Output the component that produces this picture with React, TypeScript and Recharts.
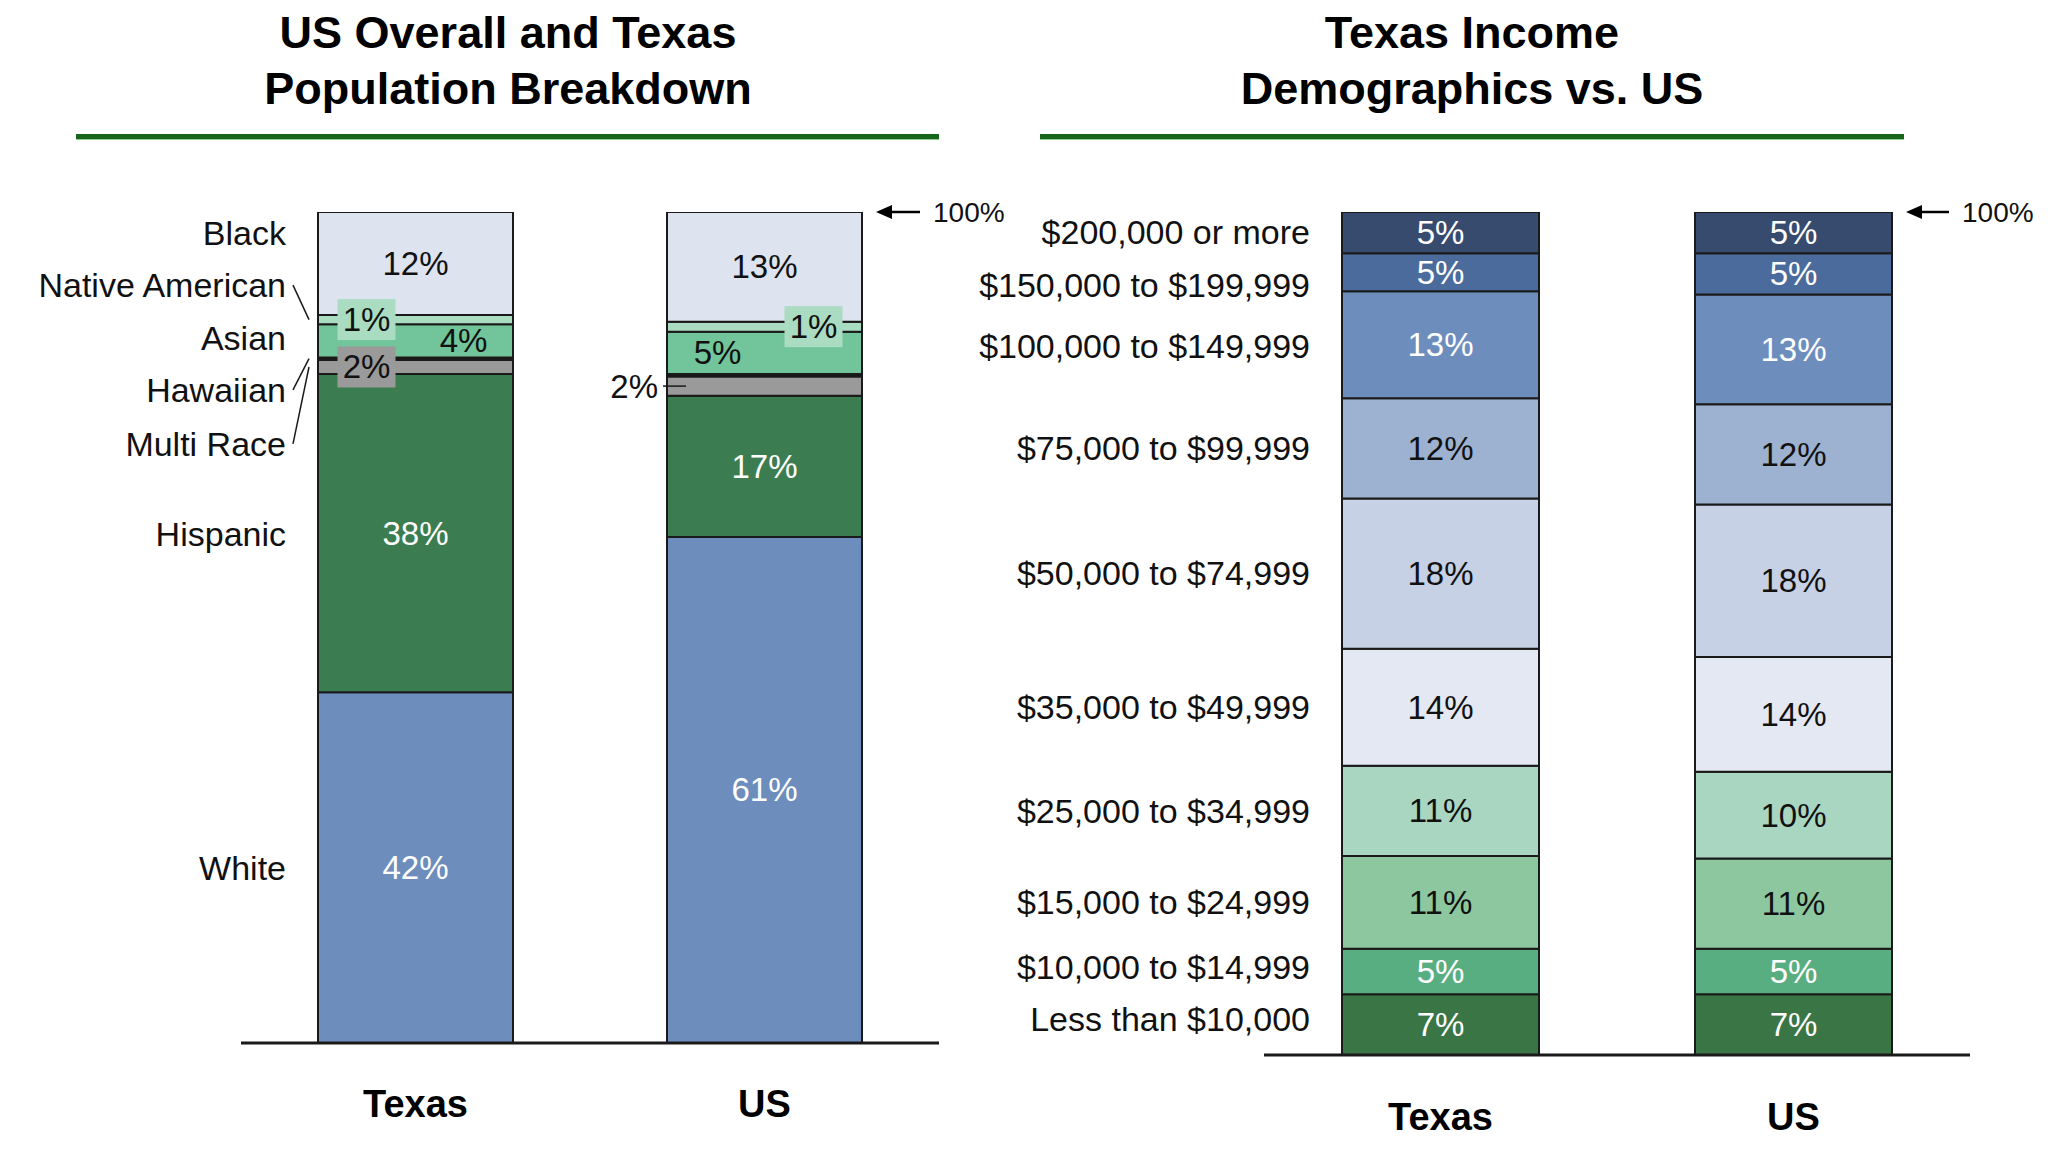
import React from "react";
import { BarChart, Bar, XAxis, YAxis, LabelList, ReferenceLine } from "recharts";

const FONT = '"Liberation Sans", Arial, Helvetica, sans-serif';

const CATEGORIES = ["Texas", "US"];

// race / ethnicity shares, bottom of stack first
const RACE_GROUPS = ["White", "Hispanic", "Multi Race", "Hawaiian", "Asian", "Native American", "Black"];
const RACE_TEXAS = [42.2, 38.3, 1.7, 0.3, 4.0, 1.1, 12.4];
const RACE_US = [60.9, 17.0, 2.3, 0.3, 5.1, 1.2, 13.2];
const RACE_TICK_POS = [21.1, 61.3, 72.1, 78.6, 84.8, 91.2, 97.5];
const RACE_LEADERS = ["Native American", "Hawaiian", "Multi Race"];
const RACE_COLORS = ["#6d8dbc", "#3b7d50", "#9a9a9a", "#151515", "#72c49a", "#a9dcc0", "#dde3ef"];

// household income shares, bottom of stack first
const INCOME_BRACKETS = [
  "Less than $10,000",
  "$10,000 to $14,999",
  "$15,000 to $24,999",
  "$25,000 to $34,999",
  "$35,000 to $49,999",
  "$50,000 to $74,999",
  "$75,000 to $99,999",
  "$100,000 to $149,999",
  "$150,000 to $199,999",
  "$200,000 or more",
];
const INCOME_TEXAS = [7.2, 5.4, 11.0, 10.7, 13.9, 17.8, 11.9, 12.7, 4.5, 4.9];
const INCOME_US = [7.2, 5.4, 10.7, 10.3, 13.6, 18.1, 11.9, 13.0, 4.9, 4.9];
const INCOME_TICK_POS = [4.3, 10.4, 18.2, 29.0, 41.3, 57.2, 72.0, 84.1, 91.3, 97.6];
const INCOME_COLORS = [
  "#3a7545", "#58ae80", "#8dc79f", "#a9d6c1", "#e3e8f2",
  "#c6d1e5", "#9db1d0", "#6d8ebd", "#4a6b9b", "#364b6e",
];
const INCOME_TEXT = ["#fff", "#fff", "#111", "#111", "#111", "#111", "#111", "#fff", "#fff", "#fff"];

const RACE_BY_CAT = [RACE_TEXAS, RACE_US];
const INCOME_BY_CAT = [INCOME_TEXAS, INCOME_US];

const raceRows = CATEGORIES.map((name, i) => {
  const row: Record<string, any> = { name };
  RACE_GROUPS.forEach((g, j) => (row[g] = RACE_BY_CAT[i][j]));
  return row;
});
const incomeRows = CATEGORIES.map((name, i) => {
  const row: Record<string, any> = { name };
  INCOME_BRACKETS.forEach((g, j) => (row[g] = INCOME_BY_CAT[i][j]));
  return row;
});

// per group / per category label treatment
type LabelStyle = { dx?: number; box?: string; color?: string; outside?: boolean } | null;
const RACE_LABEL_STYLE: LabelStyle[][] = [
  [{ color: "#fff" }, { color: "#fff" }],
  [{ color: "#fff" }, { color: "#fff" }],
  [{ dx: -49, box: "#9a9a9a" }, { outside: true }],
  [null, null],
  [{ dx: 48 }, { dx: -47 }],
  [{ dx: -49, box: "#a9dcc0" }, { dx: 49, box: "#a9dcc0" }],
  [{}, {}],
];

const LABEL_FONT = 33;
const LEFT_PLOT_H = 831;
const LEFT_AXIS_Y = 893;
const RIGHT_AXIS_Y = 905;
const RIGHT_LEFT = 960;

const pct = (v: number) => `${Math.round(v)}%`;

// all race labels drawn from the top (last) series so they sit above every segment
function RaceLabels(props: any) {
  const { x, y, width, height, index } = props;
  const vals = RACE_BY_CAT[index];
  const top = vals[vals.length - 1];
  const px = Number(height) / top;
  const below = vals.slice(0, -1).reduce((a, b) => a + b, 0);
  const bottom = Number(y) + Number(height);
  const cx = Number(x) + Number(width) / 2;
  let cum = 0;
  return (
    <g>
      {vals.map((v, j) => {
        const mid = cum + v / 2;
        cum += v;
        const st = RACE_LABEL_STYLE[j][index];
        if (!st) return null;
        const cy = bottom + (below - mid) * px;
        if (st.outside) {
          return (
            <g key={j}>
              <line x1={Number(x) - 4} x2={Number(x) + 19} y1={cy} y2={cy} stroke="#1a1a1a" strokeWidth={1.5} />
              <text x={Number(x) - 9} y={cy} textAnchor="end" dominantBaseline="central"
                fontSize={LABEL_FONT} fontFamily={FONT} fill="#111">{pct(v)}</text>
            </g>
          );
        }
        const tx = cx + (st.dx ?? 0);
        return (
          <g key={j}>
            {st.box && <rect x={tx - 29} y={cy - 20.5} width={58} height={41} fill={st.box} />}
            <text x={tx} y={cy} textAnchor="middle" dominantBaseline="central"
              fontSize={LABEL_FONT} fontFamily={FONT} fill={st.color ?? "#111"}>{pct(v)}</text>
          </g>
        );
      })}
    </g>
  );
}

function RaceTick(props: any) {
  const { y, payload } = props;
  const j = RACE_TICK_POS.indexOf(payload.value);
  if (j < 0) return null;
  const name = RACE_GROUPS[j];
  let leader = null;
  if (RACE_LEADERS.includes(name)) {
    let cum = 0;
    for (let k = 0; k < j; k++) cum += RACE_TEXAS[k];
    const target = cum + RACE_TEXAS[j] / 2;
    const ty = y + (payload.value - target) * (LEFT_PLOT_H / 100);
    leader = <line x1={293} y1={y} x2={309} y2={ty} stroke="#1a1a1a" strokeWidth={1.5} />;
  }
  return (
    <g>
      <text x={286} y={y} textAnchor="end" dominantBaseline="central" fontSize={34} fontFamily={FONT} fill="#111">
        {name}
      </text>
      {leader}
    </g>
  );
}

function IncomeTick(props: any) {
  const { y, payload } = props;
  const j = INCOME_TICK_POS.indexOf(payload.value);
  if (j < 0) return null;
  return (
    <text x={1310 - RIGHT_LEFT} y={y} textAnchor="end" dominantBaseline="central" fontSize={34} fontFamily={FONT} fill="#111">
      {INCOME_BRACKETS[j]}
    </text>
  );
}

function CategoryTick(props: any & { axisY: number; dy: number }) {
  const { x, payload, axisY, dy } = props;
  return (
    <text x={x} y={axisY + dy} textAnchor="middle" dominantBaseline="central"
      fontSize={38} fontWeight="bold" fontFamily={FONT} fill="#000">
      {payload.value}
    </text>
  );
}

function HundredLabel(props: any) {
  const vb = props.viewBox || {};
  const right = Number(vb.x) + Number(vb.width);
  const y = Number(vb.y);
  const tip = right - props.tipOff;
  return (
    <g>
      <polygon points={`${tip},${y} ${tip + 16},${y - 7} ${tip + 16},${y + 7}`} fill="#000" />
      <line x1={tip + 12} x2={right - props.tailOff} y1={y} y2={y} stroke="#000" strokeWidth={2.5} />
      <text x={right - props.textOff} y={y} dominantBaseline="central" fontSize={28} fontFamily={FONT} fill="#111">
        100%
      </text>
    </g>
  );
}

function IncomeLabel(j: number) {
  return (props: any) => {
    const { x, y, width, height, index } = props;
    const v = INCOME_BY_CAT[index][j];
    return (
      <text x={Number(x) + Number(width) / 2} y={Number(y) + Number(height) / 2} textAnchor="middle"
        dominantBaseline="central" fontSize={LABEL_FONT} fontFamily={FONT} fill={INCOME_TEXT[j]}>
        {pct(v)}
      </text>
    );
  };
}

const titleStyle: React.CSSProperties = {
  position: "absolute",
  top: 5,
  width: 800,
  textAlign: "center",
  fontFamily: FONT,
  fontWeight: "bold",
  fontSize: 45,
  lineHeight: "56px",
  color: "#000",
};

const ruleStyle: React.CSSProperties = {
  position: "absolute",
  top: 134,
  height: 5,
  background: "#17661b",
  borderBottom: "1px solid #8fd08f",
};

export default function App() {
  return (
    <div style={{ position: "absolute", left: 0, top: 0, width: 2048, height: 1151, background: "#fff", overflow: "hidden" }}>
      <div style={{ ...titleStyle, left: 108 }}>
        US Overall and Texas
        <br />
        Population Breakdown
      </div>
      <div style={{ ...titleStyle, left: 1072 }}>
        Texas Income
        <br />
        Demographics vs. US
      </div>
      <div style={{ ...ruleStyle, left: 76, width: 863 }} />
      <div style={{ ...ruleStyle, left: 1040, width: 864 }} />

      {/* left: population breakdown */}
      <div style={{ position: "absolute", left: 0, top: 150 }}>
        <BarChart width={1020} height={1001} data={raceRows} margin={{ top: 62, right: 81, left: 200, bottom: 18 }}>
          <XAxis dataKey="name" interval={0} height={90} tickLine={false}
            axisLine={{ stroke: "#1a1a1a", strokeWidth: 3 }}
            tick={(p: any) => <CategoryTick {...p} axisY={LEFT_AXIS_Y} dy={61} />} />
          <YAxis type="number" domain={[0, 100]} allowDataOverflow width={41} ticks={RACE_TICK_POS}
            interval={0} axisLine={false} tickLine={false} tick={(p: any) => <RaceTick {...p} />} />
          <ReferenceLine y={100} stroke="#fff" strokeOpacity={0}
            label={<HundredLabel tipOff={63} tailOff={19} textOff={6} />} />
          {RACE_GROUPS.map((g, j) => (
            <Bar key={g} dataKey={g} stackId="a" barSize={195} fill={RACE_COLORS[j]}
              stroke="#1a1a1a" strokeWidth={2} isAnimationActive={false}>
              {j === RACE_GROUPS.length - 1 && <LabelList content={(p: any) => <RaceLabels {...p} />} />}
            </Bar>
          ))}
        </BarChart>
      </div>

      {/* right: income demographics */}
      <div style={{ position: "absolute", left: RIGHT_LEFT, top: 150 }}>
        <BarChart width={2048 - RIGHT_LEFT} height={1001} data={incomeRows}
          margin={{ top: 62, right: 78, left: 1264 - RIGHT_LEFT - 24, bottom: 16 }}>
          <XAxis dataKey="name" interval={0} height={80} tickLine={false}
            axisLine={{ stroke: "#1a1a1a", strokeWidth: 3 }}
            tick={(p: any) => <CategoryTick {...p} axisY={RIGHT_AXIS_Y} dy={62} />} />
          <YAxis type="number" domain={[0, 100]} allowDataOverflow width={24} ticks={INCOME_TICK_POS}
            interval={0} axisLine={false} tickLine={false} tick={(p: any) => <IncomeTick {...p} />} />
          <ReferenceLine y={100} stroke="#fff" strokeOpacity={0}
            label={<HundredLabel tipOff={64} tailOff={21} textOff={8} />} />
          {INCOME_BRACKETS.map((g, j) => (
            <Bar key={g} dataKey={g} stackId="a" barSize={197} fill={INCOME_COLORS[j]}
              stroke="#1a1a1a" strokeWidth={2} isAnimationActive={false}>
              <LabelList content={IncomeLabel(j)} />
            </Bar>
          ))}
        </BarChart>
      </div>
    </div>
  );
}
